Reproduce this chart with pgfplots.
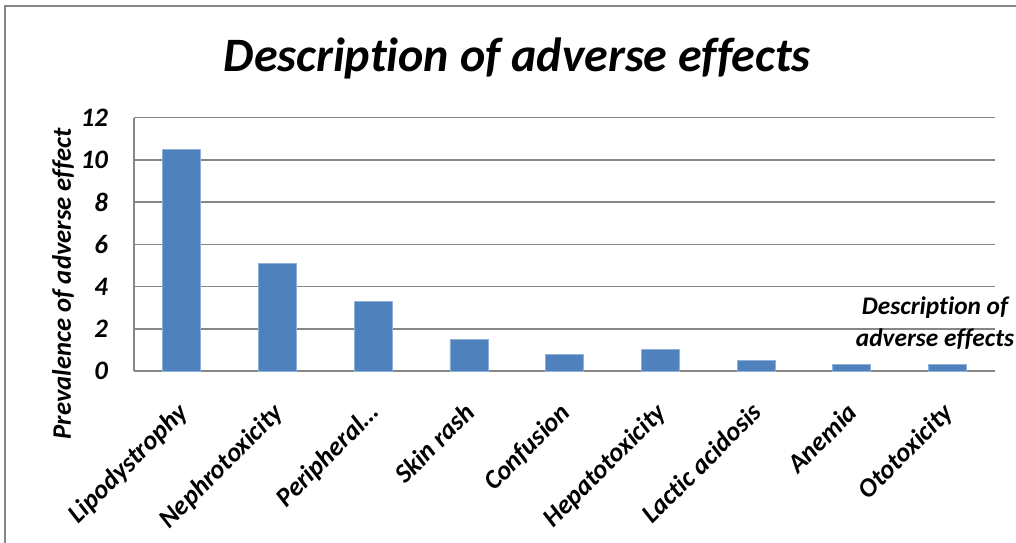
\documentclass[border=0pt]{standalone}
\usepackage{fontspec}
\setmainfont{Carlito}[Ligatures={NoCommon}]
\usepackage{pgfplots}
\pgfplotsset{compat=1.18}
\definecolor{barblue}{HTML}{4F81BD}
\definecolor{baredge}{HTML}{8FB0D8}
\definecolor{gridgray}{HTML}{868686}
\begin{document}
\begin{tikzpicture}
% picture frame in pt, 1px = 0.75pt, axis SW corner at pixel (134,371)
\useasboundingbox (-100.5pt,-128.25pt) rectangle (661.5pt,278.25pt);
\draw[gridgray, line width=1.2pt] (-96.75pt,-130pt) -- (-96.75pt,273.75pt) -- (665pt,273.75pt);
\begin{axis}[
  at={(0,0)}, anchor=south west,
  scale only axis, width=646pt, height=190pt,
  font=\bfseries\itshape,
  /pgf/number format/assume math mode=true,
  ybar, bar width=28.5pt,
  xmin=-0.5, xmax=8.5, ymin=0, ymax=12,
  ytick={0,2,...,12},
  xtick=data,
  xticklabels={Lipodystrophy,Nephrotoxicity,Peripheral\ldots,Skin rash,Confusion,Hepatotoxicity,Lactic acidosis,Anemia,Ototoxicity},
  xticklabel style={font=\fontsize{20}{22}\selectfont\bfseries\itshape, rotate=45, anchor=north east, inner sep=1pt, yshift=-11.5pt, xshift=-18pt},
  yticklabel style={font=\fontsize{20}{22}\selectfont\bfseries\itshape, xshift=-16pt},
  major tick length=0pt,
  axis x line*=bottom, axis y line*=left,
  axis line style={gridgray, line width=1.2pt, -},
  ymajorgrids, grid style={gridgray, line width=1.2pt},
  clip=false,
]
\addplot[fill=barblue, draw=baredge, line width=0.6pt] coordinates {
  (0,10.5) (1,5.1) (2,3.3) (3,1.5) (4,0.8) (5,1.0) (6,0.5) (7,0.3) (8,0.3)
};
\end{axis}
\node[font=\fontsize{36}{42}\selectfont\bfseries\itshape] at (287.5pt,234.75pt) {Description of adverse effects};
\node[rotate=90, font=\fontsize{20}{22}\selectfont\bfseries\itshape] at (-53.25pt,65.5pt) {Prevalence of adverse effect};
\node[align=center, font=\fontsize{19}{24.5}\selectfont\bfseries\itshape] at (600.75pt,36pt) {Description of\\adverse effects};
\end{tikzpicture}
\end{document}
